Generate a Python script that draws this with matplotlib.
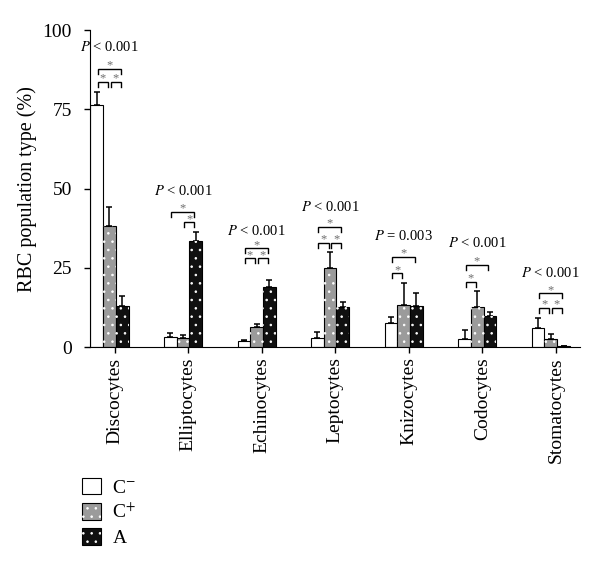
import numpy as np
import matplotlib
matplotlib.use("Agg")
import matplotlib.pyplot as plt
from matplotlib.legend_handler import HandlerTuple

plt.rcParams['font.family'] = ['Liberation Serif', 'DejaVu Serif']
plt.rcParams['mathtext.fontset'] = 'stix'
plt.rcParams['hatch.linewidth'] = 0.6

# data
categories = ['Discocytes', 'Elliptocytes', 'Echinocytes', 'Leptocytes',
              'Knizocytes', 'Codocytes', 'Stomatocytes']
c_minus = [76.5, 3.2, 1.9, 2.8, 7.6, 2.5, 6.0]
c_minus_err = [3.9, 1.2, 0.4, 1.9, 1.9, 2.9, 3.1]
c_plus = [38.2, 2.8, 6.3, 24.9, 13.2, 12.6, 2.5]
c_plus_err = [6.0, 1.0, 0.9, 5.1, 7.0, 5.1, 1.5]
a_vals = [12.9, 33.4, 18.9, 12.6, 13.0, 9.8, 0.3]
a_err = [3.2, 2.9, 2.1, 1.6, 4.0, 1.2, 0.0]

p_labels = ['$P$ < 0.001', '$P$ < 0.001', '$P$ < 0.001', '$P$ < 0.001',
            '$P$ = 0.003', '$P$ < 0.001', '$P$ < 0.001']
p_y = [94.6, 49.2, 36.6, 44.2, 35.0, 32.8, 23.3]
# significance brackets: lower row pairs + one wide bracket (0, 2) on top
lower_pairs = [[(0, 1), (1, 2)], [(1, 2)], [(0, 1), (1, 2)], [(0, 1), (1, 2)],
               [(0, 1)], [(0, 1)], [(0, 1), (1, 2)]]
lower_y = [83.6, 39.4, 28.0, 32.8, 23.3, 20.5, 12.3]
top_y = [87.7, 42.6, 31.2, 37.9, 28.4, 25.9, 17.0]

series = [c_minus, c_plus, a_vals]
errors = [c_minus_err, c_plus_err, a_err]
colors = ['white', '#9b9b9b', '#101010']
labels = ['C$^{-}$', 'C$^{+}$', 'A']

fig = plt.figure(figsize=(6, 5.68), dpi=100)
ax = fig.add_axes([0.15, 0.389, 0.817, 0.558])

x = np.arange(len(categories))
w = 0.173
handles = []
for i, (vals, errs, col) in enumerate(zip(series, errors, colors)):
    pos = x + (i - 1) * w
    b = ax.bar(pos, vals, width=w, color=col, edgecolor='black', linewidth=0.8, zorder=2)
    ax.errorbar(pos, vals, yerr=[np.zeros(len(vals)), errs], fmt='none',
                ecolor='black', elinewidth=1.1, capsize=2, capthick=1.1, zorder=1)
    if i > 0:
        h = ax.bar(pos, vals, width=w, fill=False, hatch='..', edgecolor='white',
                   linewidth=0, zorder=3)
        handles.append((b[0], h[0]))
    else:
        handles.append((b[0],))

star_col = '#6e6e6e'


def bracket(x1, x2, y):
    ax.plot([x1, x1, x2, x2], [y - 1.6, y, y, y - 1.6], color='black', lw=1.0,
            solid_joinstyle='miter', zorder=4)
    ax.text((x1 + x2) / 2, y + 0.1, '*', ha='center', va='baseline',
            fontsize=9, color=star_col)


for g in range(len(categories)):
    c = [x[g] - w, x[g], x[g] + w]
    for (i, j) in lower_pairs[g]:
        bracket(c[i] + 0.08 * w, c[j] - 0.12 * w, lower_y[g])
    bracket(c[0] + 0.08 * w, c[2] - 0.12 * w, top_y[g])
    ax.text(x[g], p_y[g], p_labels[g], ha='center', va='center', fontsize=10.5)

ax.set_xlim(-0.265, 6.4)
ax.set_ylim(0, 100)
ax.set_yticks([0, 25, 50, 75, 100])
ax.set_xticks(x + 0.07)
ax.set_xticklabels(categories, rotation=90, fontsize=14)
ax.tick_params(axis='y', labelsize=14, length=4, width=1, pad=9)
ax.tick_params(axis='x', length=4, width=1)
ax.set_ylabel('RBC population type (%)', fontsize=14.5, labelpad=4)
for s in ['top', 'right']:
    ax.spines[s].set_visible(False)

fig.legend(handles, labels, loc='upper left', bbox_to_anchor=(0.108, 0.19),
           frameon=False, fontsize=14, handlelength=0.95, handleheight=0.95,
           handletextpad=0.6, labelspacing=0.3,
           handler_map={tuple: HandlerTuple(ndivide=1, pad=0)})

fig.savefig('out.png', dpi=100)
